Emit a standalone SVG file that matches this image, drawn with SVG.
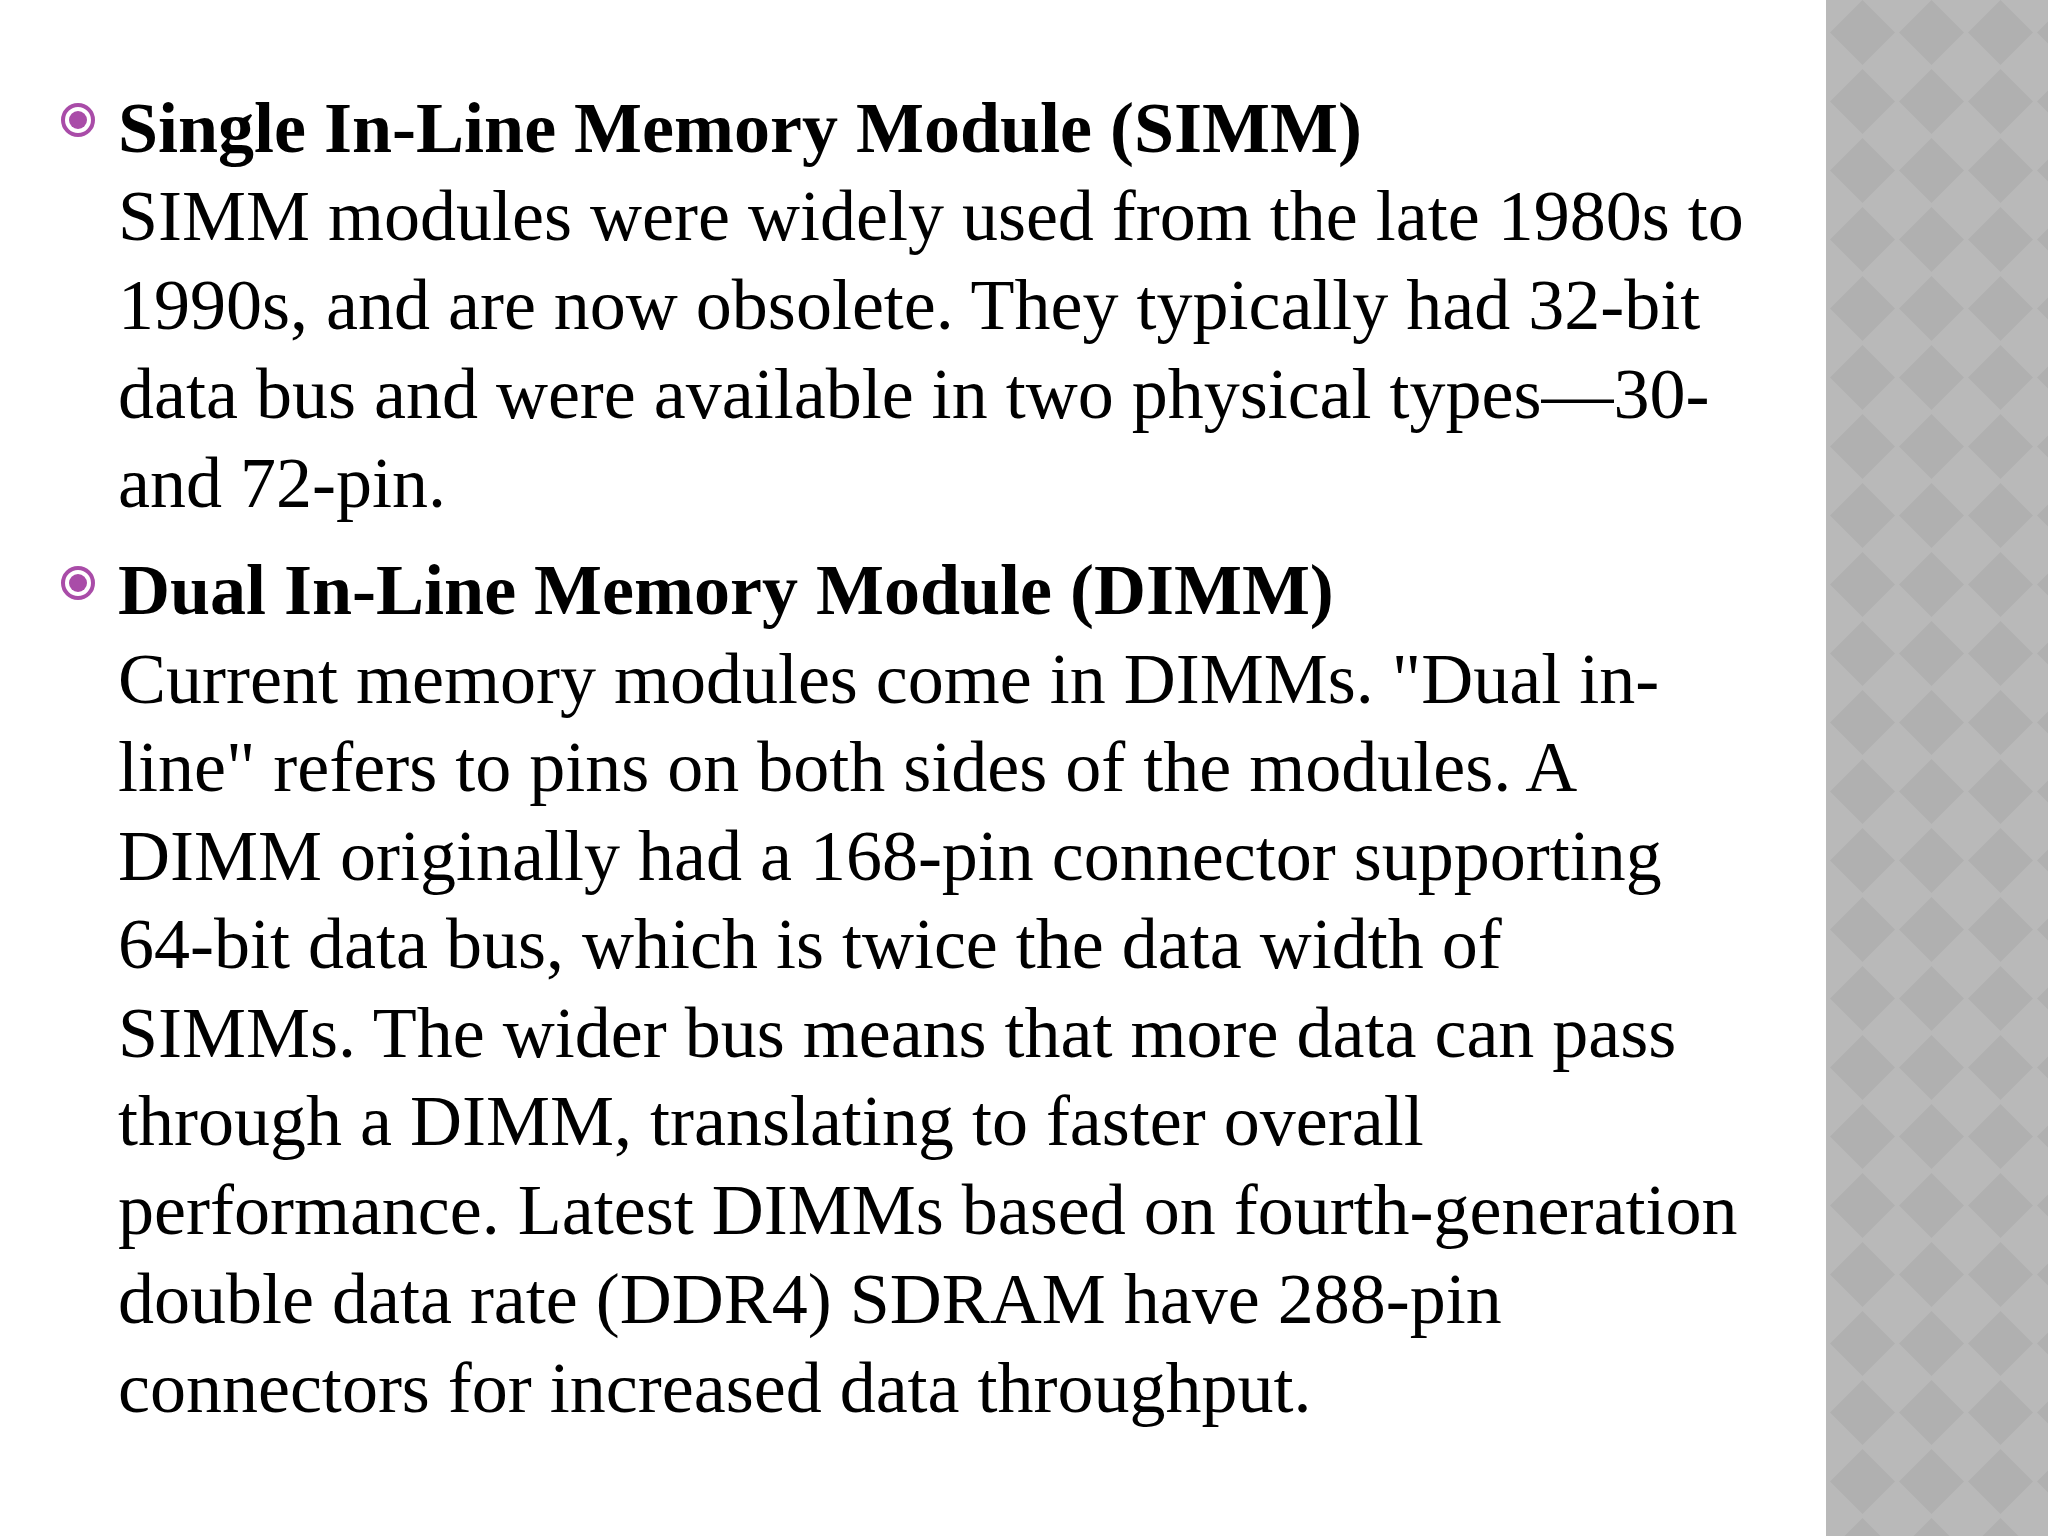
<svg xmlns="http://www.w3.org/2000/svg" width="2048" height="1536" viewBox="0 0 2048 1536">
<defs>
<pattern id="dia" x="1828" y="-2" width="138" height="138" patternUnits="userSpaceOnUse">
<rect width="138" height="138" fill="#b9b9b9"/>
<path d="M34.5 2 L67 34.5 L34.5 67 L2 34.5Z M103.5 2 L136 34.5 L103.5 67 L71 34.5Z M34.5 71 L67 103.5 L34.5 136 L2 103.5Z M103.5 71 L136 103.5 L103.5 136 L71 103.5Z" fill="#b0b0b0"/>
</pattern>
</defs>
<style>
text{font-family:"Liberation Serif","Times New Roman",serif;font-size:72px;fill:#000}
.h{font-weight:bold}
</style>
<rect width="2048" height="1536" fill="#fff"/>
<rect x="1826" y="0" width="222" height="1536" fill="url(#dia)"/>
<g id="bullet1"><circle cx="78" cy="120" r="15" fill="none" stroke="#a94ca8" stroke-width="4"/><circle cx="78" cy="120" r="9" fill="#a94ca8"/></g>
<g id="bullet2"><circle cx="78" cy="583" r="15" fill="none" stroke="#a94ca8" stroke-width="4"/><circle cx="78" cy="583" r="9" fill="#a94ca8"/></g>
<g id="simm">
<text class="h" x="118" y="152">Single In-Line Memory Module (SIMM)</text>
<text x="118" y="240">SIMM modules were widely used from the late 1980s to</text>
<text x="118" y="329">1990s, and are now obsolete. They typically had 32-bit</text>
<text x="118" y="418">data bus and were available in two physical types—30-</text>
<text x="118" y="507">and 72-pin.</text>
</g>
<g id="dimm">
<text class="h" x="118" y="614">Dual In-Line Memory Module (DIMM)</text>
<text x="118" y="703">Current memory modules come in DIMMs. "Dual in-</text>
<text x="118" y="791">line" refers to pins on both sides of the modules. A</text>
<text x="118" y="880">DIMM originally had a 168-pin connector supporting</text>
<text x="118" y="968">64-bit data bus, which is twice the data width of</text>
<text x="118" y="1057">SIMMs. The wider bus means that more data can pass</text>
<text x="118" y="1145">through a DIMM, translating to faster overall</text>
<text x="118" y="1234">performance. Latest DIMMs based on fourth-generation</text>
<text x="118" y="1323">double data rate (DDR4) SDRAM have 288-pin</text>
<text x="118" y="1412">connectors for increased data throughput.</text>
</g>
</svg>
